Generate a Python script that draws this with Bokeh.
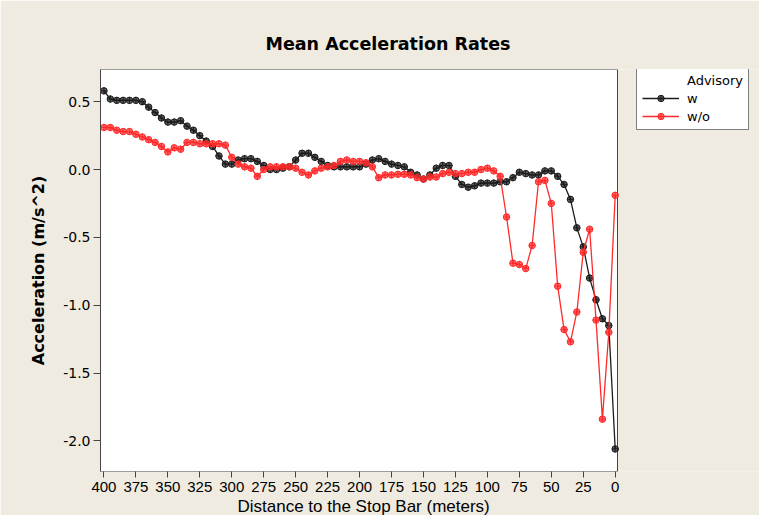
from bokeh.plotting import figure
from bokeh.models import (Range1d, FixedTicker, NumeralTickFormatter, Legend, LegendItem,
                          BoxAnnotation, Title)
from bokeh.embed import file_html
from bokeh.resources import INLINE

# Distance to the stop bar (m), every 5 m from 400 down to 0
distance = list(range(400, -1, -5))

# Mean acceleration (m/s^2) with advisory ("w")
accel_w = [
    0.58, 0.52, 0.51, 0.51, 0.51, 0.51, 0.50, 0.46, 0.42, 0.38,
    0.35, 0.35, 0.36, 0.32, 0.29, 0.25, 0.21, 0.17, 0.10, 0.04,
    0.04, 0.07, 0.08, 0.08, 0.06, 0.03, 0.00, 0.00, 0.01, 0.02,
    0.07, 0.12, 0.12, 0.09, 0.06, 0.03, 0.02, 0.02, 0.02, 0.02,
    0.02, 0.04, 0.07, 0.08, 0.06, 0.04, 0.03, 0.02, -0.02, -0.04,
    -0.07, -0.04, 0.01, 0.03, 0.03, -0.05, -0.11, -0.13, -0.12, -0.10,
    -0.10, -0.10, -0.09, -0.09, -0.06, -0.02, -0.03, -0.04, -0.04, -0.01,
    -0.01, -0.05, -0.11, -0.22, -0.43, -0.57, -0.80, -0.96, -1.10, -1.15,
    -2.06,
]

# Mean acceleration (m/s^2) without advisory ("w/o")
accel_wo = [
    0.31, 0.31, 0.29, 0.28, 0.28, 0.26, 0.24, 0.22, 0.20, 0.17,
    0.13, 0.16, 0.15, 0.20, 0.20, 0.19, 0.19, 0.19, 0.19, 0.18,
    0.09, 0.04, 0.02, 0.01, -0.05, 0.00, 0.02, 0.02, 0.02, 0.02,
    0.01, -0.02, -0.04, -0.01, 0.01, 0.02, 0.03, 0.06, 0.07, 0.06,
    0.06, 0.05, 0.02, -0.06, -0.04, -0.04, -0.035, -0.035, -0.04, -0.06,
    -0.07, -0.055, -0.055, -0.03, -0.02, -0.03, -0.03, -0.02, -0.02, 0.00,
    0.01, -0.01, -0.05, -0.35, -0.69, -0.70, -0.73, -0.56, -0.09, -0.08,
    -0.25, -0.86, -1.18, -1.27, -1.05, -0.61, -0.44, -1.11, -1.84, -1.20,
    -0.19,
]

x_ticks = [400, 375, 350, 325, 300, 275, 250, 225, 200, 175, 150, 125, 100, 75, 50, 25, 0]
y_ticks = [0.5, 0.0, -0.5, -1.0, -1.5, -2.0]

BG = "#EFEBE0"
BLACK = "#1c1c1c"
RED = "#ff2a2a"
FRAME = "#444444"

# data window of the white plot area; the frame continues to the right edge to host the legend
X_LEFT, X_RIGHT = 402.7, -1.8
X_FAR = X_LEFT - (X_LEFT - X_RIGHT) * 659 / 517

p = figure(
    width=759, height=515, output_backend="svg", toolbar_location=None,
    x_range=Range1d(X_LEFT, X_FAR), y_range=Range1d(-2.226, 0.7375),
    min_border_left=100, min_border_right=0, min_border_top=69, min_border_bottom=43,
    background_fill_color=BG, border_fill_color=BG,
)
p.grid.visible = False
p.outline_line_alpha = 0

plot_area = BoxAnnotation(left=X_RIGHT, right=X_LEFT, fill_color="white", fill_alpha=1,
                          line_color=FRAME, line_width=1, line_alpha=1, level="underlay")
p.add_layout(plot_area)

p.title.text = "Mean Acceleration Rates"
p.title.align = "left"
p.title.offset = 165
p.title.standoff = 32
p.title.text_font = "DejaVu Sans"
p.title.text_font_style = "bold"
p.title.text_font_size = "17.5px"
p.title.text_color = "black"

xa = p.xaxis[0]
xa.ticker = FixedTicker(ticks=x_ticks)
xa.axis_label = None
xa.major_label_text_font = "Liberation Sans"
xa.major_label_text_font_size = "15px"
xa.major_label_standoff = 4
xa.major_tick_out = 6
xa.major_tick_in = 0
xa.minor_tick_out = 0
xa.minor_tick_in = 0
xa.axis_line_alpha = 0
xa.major_tick_line_color = FRAME
xa.major_label_text_color = "black"

xtitle = Title(text="Distance to the Stop Bar (meters)", align="left", offset=137,
               standoff=0, text_font="Liberation Sans", text_font_style="normal",
               text_font_size="17px", text_color="black")
p.add_layout(xtitle, "below")

ya = p.yaxis[0]
ya.ticker = FixedTicker(ticks=y_ticks)
ya.formatter = NumeralTickFormatter(format="0.0")
ya.axis_label = "Acceleration (m/s^2)"
ya.axis_label_text_font = "DejaVu Sans"
ya.axis_label_text_font_style = "bold"
ya.axis_label_text_font_size = "16px"
ya.axis_label_standoff = 12
ya.major_label_text_font = "DejaVu Sans"
ya.major_label_text_font_size = "14px"
ya.major_label_standoff = 3
ya.major_tick_out = 7
ya.major_tick_in = 0
ya.minor_tick_out = 0
ya.minor_tick_in = 0
ya.axis_line_color = FRAME
ya.major_tick_line_color = FRAME
ya.major_label_text_color = "black"
ya.axis_label_text_color = "black"

w_line = p.line(distance, accel_w, line_color=BLACK, line_width=1.3)
w_pts = p.scatter(distance, accel_w, marker="circle_cross", size=6.5,
                  line_color=BLACK, fill_color=BLACK, fill_alpha=0.7)
wo_line = p.line(distance, accel_wo, line_color=RED, line_width=1.3)
wo_pts = p.scatter(distance, accel_wo, marker="circle_cross", size=6.5,
                   line_color=RED, fill_color=RED, fill_alpha=0.7)

dummy = p.scatter(x=[], y=[], alpha=0)

legend = Legend(
    items=[
        LegendItem(label="Advisory", renderers=[dummy]),
        LegendItem(label="w", renderers=[w_line, w_pts]),
        LegendItem(label="w/o", renderers=[wo_line, wo_pts]),
    ],
    location=(536, 341),
    border_line_color="black", border_line_width=1,
    background_fill_color="white", background_fill_alpha=1,
    label_text_font="DejaVu Sans", label_text_font_size="13px",
    label_text_color="black",
    glyph_width=37, glyph_height=16, label_height=16, spacing=2,
    padding=5, margin=0, label_standoff=8,
)
p.add_layout(legend)

open("out.html", "w").write(file_html(p, INLINE))
